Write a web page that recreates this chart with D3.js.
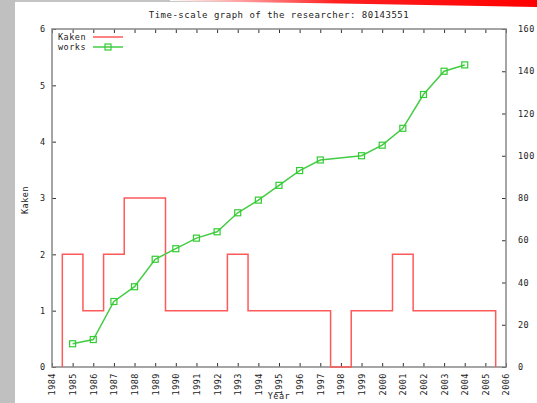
<!DOCTYPE html>
<html>
<head>
<meta charset="utf-8">
<script src="https://cdn.jsdelivr.net/npm/d3@7"></script>
<style>
html,body{margin:0;padding:0;background:#fff;}
svg{display:block;}
text{font-family:"DejaVu Sans Mono",monospace;fill:#222;}
</style>
</head>
<body>
<svg id="chart" width="537" height="403"></svg>
<script>
// ---- data ----
const kakenYears = [1985,1986,1987,1988,1989,1990,1991,1992,1993,1994,1995,1996,1997,1998,1999,2000,2001,2002,2003,2004,2005];
const kakenValues = [2,1,2,3,3,1,1,1,2,1,1,1,1,0,1,1,2,1,1,1,1];
const worksYears = [1985,1986,1987,1988,1989,1990,1991,1992,1993,1994,1995,1996,1997,1999,2000,2001,2002,2003,2004];
const worksValues = [11,13,31,38,51,56,61,64,73,79,86,93,98,100,105,113,129,140,143];
const xTicks = d3.range(1984, 2007);
const yLeftTicks = [0,1,2,3,4,5,6];
const yRightTicks = [0,20,40,60,80,100,120,140,160];
const titleText = "Time-scale graph of the researcher: 80143551";

const svg = d3.select("#chart");
const W = 537, H = 403;
const L = 52, R = 506, T = 29, B = 367;

// decoration: gray strip and red banner
const defs = svg.append("defs");
const grad = defs.append("linearGradient").attr("id","redg").attr("x1","0").attr("x2","1").attr("y1","0").attr("y2","0");
grad.append("stop").attr("offset","0").attr("stop-color","#ffffff");
grad.append("stop").attr("offset","0.45").attr("stop-color","#ff2020");
grad.append("stop").attr("offset","1").attr("stop-color","#ff0000");
svg.append("rect").attr("x",0).attr("y",0).attr("width",W).attr("height",2).attr("fill","#c4c4c4");
svg.append("polygon").attr("points","170,0 537,0 537,7 340,3.5 170,1").attr("fill","url(#redg)");
svg.append("rect").attr("x",0).attr("y",0).attr("width",15).attr("height",H).attr("fill","#c0c0c0");

const x = d3.scaleLinear().domain([1984, 2006]).range([L, R]);
const yL = d3.scaleLinear().domain([0, 6]).range([B, T]);
const yR = d3.scaleLinear().domain([0, 160]).range([B, T]);

const fs = "8.5px";
// axes
const gB = svg.append("g").attr("transform",`translate(0,${B})`)
  .call(d3.axisBottom(x).tickValues(xTicks).tickFormat(d3.format("d")).tickSizeInner(-4).tickSizeOuter(0));
gB.selectAll("text").attr("transform","rotate(-90)").attr("x",-6).attr("y",0).attr("dy","0.35em")
  .attr("text-anchor","end").style("font-size",fs).style("letter-spacing","0.5px");
const gT = svg.append("g").attr("transform",`translate(0,${T})`)
  .call(d3.axisTop(x).tickValues(xTicks).tickFormat("").tickSizeInner(-4).tickSizeOuter(0));
const gL = svg.append("g").attr("transform",`translate(${L},0)`)
  .call(d3.axisLeft(yL).tickValues(yLeftTicks).tickFormat(d3.format("d")).tickSizeInner(-4).tickSizeOuter(0).tickPadding(7));
gL.selectAll("text").style("font-size",fs);
const gR = svg.append("g").attr("transform",`translate(${R},0)`)
  .call(d3.axisRight(yR).tickValues(yRightTicks).tickFormat(d3.format("d")).tickSizeInner(-4).tickSizeOuter(0).tickPadding(12));
gR.selectAll("text").style("font-size",fs).style("letter-spacing","0.5px");
[gB,gT,gL,gR].forEach(g => {
  g.select(".domain").remove();
  g.selectAll("line").attr("stroke","#333").attr("stroke-width",1);
  g.selectAll("text").attr("fill","#222").style("font-family","'DejaVu Sans Mono',monospace");
});

// border
svg.append("rect").attr("x",L).attr("y",T).attr("width",R-L).attr("height",B-T)
  .attr("fill","none").attr("stroke","#888").attr("stroke-width",1.5);

// kaken histeps
const stepPts = [];
kakenYears.forEach((yr,i) => {
  if (i === 0) stepPts.push([yr-0.5, 0]);
  stepPts.push([yr-0.5, kakenValues[i]]);
  stepPts.push([yr+0.5, kakenValues[i]]);
});
stepPts.push([kakenYears[kakenYears.length-1]+0.5, 0]);
const stepLine = d3.line().x(d => x(d[0])).y(d => yL(d[1]));
svg.append("path").attr("d", stepLine(stepPts)).attr("fill","none")
  .attr("stroke","#ff5a5a").attr("stroke-width",1.5);

// works line
const worksData = worksYears.map((yr,i) => [yr, worksValues[i]]);
const wLine = d3.line().x(d => x(d[0])).y(d => yR(d[1]));
svg.append("path").attr("d", wLine(worksData)).attr("fill","none")
  .attr("stroke","#44cc44").attr("stroke-width",1.5);
svg.selectAll("rect.pt").data(worksData).enter().append("rect").attr("class","pt")
  .attr("x", d => x(d[0]) - 3).attr("y", d => yR(d[1]) - 3).attr("width",6).attr("height",6)
  .attr("fill","none").attr("stroke","#33cc33").attr("stroke-width",1.2);

// legend
svg.append("text").attr("x",58).attr("y",37).attr("dy","0.35em").style("font-size",fs).style("letter-spacing","0.5px").text("Kaken");
svg.append("line").attr("x1",93).attr("x2",123).attr("y1",37).attr("y2",37).attr("stroke","#ff5a5a").attr("stroke-width",1.5);
svg.append("text").attr("x",58).attr("y",47).attr("dy","0.35em").style("font-size",fs).style("letter-spacing","0.5px").text("works");
svg.append("line").attr("x1",93).attr("x2",123).attr("y1",47).attr("y2",47).attr("stroke","#44cc44").attr("stroke-width",1.5);
svg.append("rect").attr("x",105).attr("y",44).attr("width",6).attr("height",6).attr("fill","none").attr("stroke","#33cc33").attr("stroke-width",1.2);

// title and axis labels
svg.append("text").attr("x",279).attr("y",15).attr("dy","0.35em").attr("text-anchor","middle")
  .style("font-size","9px").style("letter-spacing","0.5px").text(titleText);
svg.append("text").attr("transform","translate(25,200) rotate(-90)").attr("text-anchor","middle").attr("dy","0.35em")
  .style("font-size",fs).style("letter-spacing","0.5px").text("Kaken");
svg.append("text").attr("x",279).attr("y",399).attr("text-anchor","middle")
  .style("font-size",fs).style("letter-spacing","0.5px").text("Year");
</script>
</body>
</html>
